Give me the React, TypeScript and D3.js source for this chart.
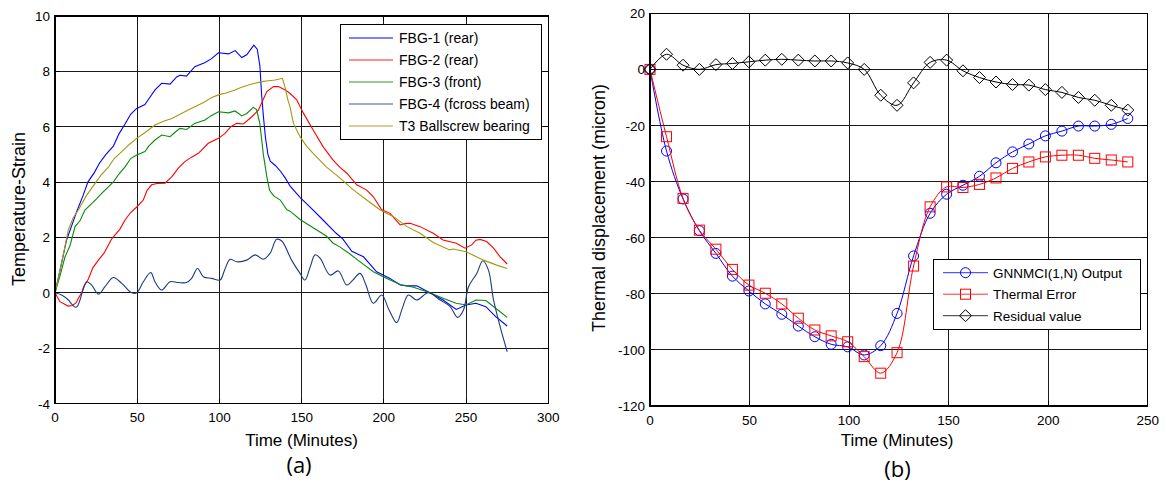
import React from "react";
import * as d3 from "d3";

// ---------- Panel (a) data: [time (min), temperature-strain] ----------
const fbg1: [number, number][] = [[0,0],[3,0.8],[7,1.9],[10,2.4],[13,2.9],[17,3.5],[20,4.0],[24,4.35],[27,4.68],[31,5.0],[35.5,5.3],[39,5.75],[42.6,6.1],[46,6.45],[49.7,6.66],[54.7,6.8],[57,7.0],[60.8,7.33],[64.9,7.57],[70,7.54],[74,7.8],[76,7.86],[80,7.83],[85,8.17],[91,8.31],[95,8.45],[99.4,8.67],[105.5,8.63],[109.6,8.75],[113.6,8.5],[116.6,8.6],[120.9,8.95],[123,8.8],[124.6,8.2],[125.6,7.2],[126.7,6.4],[128,5.6],[129.5,5.0],[131,4.75],[134,4.6],[137,4.4],[140,4.15],[143,3.85],[149,3.45],[155,3.1],[163,2.63],[171,2.15],[175,1.95],[180.5,1.5],[187.6,1.3],[195.6,0.76],[203.7,0.52],[210,0.28],[214,0.25],[220,0.25],[228,0],[236,-0.26],[244,-0.6],[250,-0.44],[256,-0.38],[262,-0.5],[268,-0.86],[275,-1.2]];
const fbg2: [number, number][] = [[0,0],[3,-0.32],[8,-0.48],[10.7,-0.46],[13,-0.35],[14.2,-0.2],[16.2,0],[17.3,0.2],[20.3,0.5],[23,0.9],[26.4,1.18],[30,1.45],[34.5,1.95],[39.5,2.3],[42.6,2.63],[46,2.9],[49.7,3.1],[53.7,3.35],[56,3.7],[58.8,3.9],[62,3.95],[66.9,3.96],[71,4.19],[75,4.5],[79,4.74],[83,4.9],[87.2,5.04],[93.2,5.4],[99.4,5.58],[103.4,5.76],[107,6.0],[110.5,6.12],[114.6,6.1],[119.7,6.36],[123.7,6.6],[126,6.9],[128.8,7.27],[132.9,7.45],[135.9,7.45],[140,7.33],[143,7.2],[147,6.97],[151,6.5],[157,5.88],[163,5.28],[169,4.8],[173,4.55],[177.5,4.32],[183.5,3.9],[189.6,3.71],[193.6,3.47],[198.7,3.0],[203.8,2.87],[209.9,2.45],[213,2.5],[216,2.51],[222,2.39],[230,2.15],[236,1.91],[244,1.79],[249.4,1.61],[253.4,1.73],[256,1.9],[258.5,1.93],[262.5,1.85],[266.7,1.61],[270.7,1.3],[275,1.04]];
const fbg3: [number, number][] = [[0,0],[3,0.6],[6.1,1.3],[9.1,1.7],[12.2,2.39],[15.2,2.6],[18.2,2.99],[22,3.2],[25.4,3.4],[28.4,3.59],[32,3.8],[35.5,4.01],[39,4.3],[42.6,4.55],[46,4.85],[49.7,4.98],[54.7,5.1],[57,5.3],[60.8,5.52],[64.9,5.7],[70,5.64],[73,5.8],[76,5.94],[80,5.9],[85,6.12],[91.2,6.24],[95,6.4],[99.4,6.54],[105.5,6.5],[109.5,6.57],[113.6,6.39],[116.6,6.48],[120.6,6.7],[122.6,6.62],[124.6,6.1],[126.7,5.0],[128.8,4.2],[130.5,3.7],[133,3.5],[137,3.35],[141,3.0],[143,2.95],[149,2.65],[157,2.35],[165,2.05],[169,1.8],[173.4,1.65],[179.4,1.4],[186.6,1.07],[193.6,0.76],[201.8,0.52],[209.9,0.3],[218,0.2],[228,0],[236,-0.2],[244,-0.38],[250,-0.44],[256,-0.26],[262,-0.28],[268,-0.56],[275,-0.89]];
const fbg4: [number, number][] = [[0,0],[4,-0.08],[8.1,-0.26],[10,-0.4],[12.2,-0.52],[13.5,-0.5],[15.2,-0.26],[17,0.1],[19.3,0.4],[22.3,0.28],[26.4,-0.05],[30.4,0.22],[35.5,0.55],[40.6,0.34],[46.7,0],[49.7,0],[53.7,0.4],[58.2,0.73],[60.8,0.4],[64.9,0.1],[70,0.4],[75,0.37],[80,0.37],[83.1,0.52],[86.7,0.88],[90.2,0.58],[95.3,0.52],[100.4,0.46],[103,0.8],[106.5,1.21],[110.5,1.12],[116.6,1.18],[121.7,1.37],[126.7,1.21],[130.8,1.43],[134.8,1.93],[137.9,1.87],[143.9,1.18],[149,0.7],[152,0.46],[155,0.9],[158.2,1.37],[161.2,1.25],[167.3,0.64],[172.3,0.79],[177.4,0.28],[181,0.45],[185.5,0.7],[189,0.3],[193.6,-0.38],[198.7,-0.08],[203,-0.6],[207.8,-1.08],[211,-0.6],[214.9,-0.08],[220,-0.26],[227,0],[234.2,-0.26],[240.3,-0.5],[244.8,-0.89],[248.4,-0.62],[251.5,0.22],[256.5,0.7],[260.2,1.16],[263.6,0.82],[266.7,-0.26],[270.7,-1.22],[275,-2.13]];
const t3Bearing: [number, number][] = [[0,0],[4,1.07],[8.1,2.27],[11,2.7],[14.2,2.99],[19,3.5],[24.5,3.96],[28,4.25],[32.6,4.55],[36,4.85],[40.6,5.1],[45,5.35],[49.7,5.58],[55,5.8],[60.8,6.06],[66,6.2],[71,6.3],[76,6.45],[81,6.6],[86,6.75],[91.2,6.9],[95,7.05],[99.4,7.15],[104,7.22],[109.5,7.33],[113,7.42],[117.6,7.51],[121,7.56],[125.7,7.63],[130,7.66],[133.8,7.69],[138.3,7.75],[140,7.4],[141.5,7.0],[143,6.7],[145,6.12],[149,5.64],[153,5.3],[157,5.04],[165,4.55],[173.4,4.14],[181.6,3.71],[189.6,3.35],[197.8,2.99],[205.9,2.75],[214,2.39],[222,2.15],[230,1.82],[240,1.55],[242.3,1.58],[250,1.48],[260.6,1.18],[268.6,1.0],[275,0.88]];

const seriesA = [
  { name: "FBG-1 (rear)", color: "#0000ff", legendColor: "#0000ff", data: fbg1, smooth: false },
  { name: "FBG-2 (rear)", color: "#ff0000", legendColor: "#ff2020", data: fbg2, smooth: false },
  { name: "FBG-3 (front)", color: "#0a8a0a", legendColor: "#2a9a2a", data: fbg3, smooth: false },
  { name: "FBG-4 (fcross beam)", color: "#1e3a80", legendColor: "#44578f", data: fbg4, smooth: true },
  { name: "T3 Ballscrew bearing", color: "#a09a10", legendColor: "#a8a030", data: t3Bearing, smooth: false },
];
const xTicksA = [0, 50, 100, 150, 200, 250, 300];
const yTicksA = [-4, -2, 0, 2, 4, 6, 8, 10];

// ---------- Panel (b) data ----------
const timeB = [0, 8.3, 16.6, 24.8, 33.1, 41.4, 49.7, 57.9, 66.2, 74.5, 82.8, 91.0, 99.3, 107.6, 115.9, 124.1, 132.4, 140.7, 149.0, 157.2, 165.5, 173.8, 182.1, 190.3, 198.6, 206.9, 215.2, 223.4, 231.7, 240];
const gnnOutput = [0, -29.1, -46.2, -57.5, -65.6, -73.7, -79.0, -83.6, -87.3, -91.5, -95.3, -98.0, -98.9, -101.8, -98.5, -87.0, -66.5, -51.3, -44.5, -41.3, -38.1, -33.3, -29.4, -26.6, -23.7, -22.0, -20.2, -20.2, -19.6, -17.5];
const thermalError = [0, -24.0, -46.0, -57.3, -64.1, -71.3, -76.9, -79.8, -83.6, -88.7, -92.9, -95.0, -97.1, -102.4, -108.3, -101.0, -70.1, -49.0, -41.9, -42.1, -41.0, -38.7, -35.3, -33.0, -31.2, -30.6, -30.6, -31.7, -32.3, -33.0];
const residual = [0, 5.4, 1.5, 0, 1.7, 2.1, 2.7, 3.3, 3.6, 3.3, 3.0, 3.0, 2.3, 0, -9.2, -12.8, -4.8, 2.5, 3.3, -0.5, -2.9, -4.5, -5.4, -5.6, -7.2, -8.2, -10.0, -11.0, -12.8, -14.5];
const xTicksB = [0, 50, 100, 150, 200, 250];
const yTicksB = [-120, -100, -80, -60, -40, -20, 0, 20];

const seriesB = [
  { name: "GNNMCI(1,N) Output", color: "#0000ff", legendColor: "#3030ff", values: gnnOutput, marker: "circle" },
  { name: "Thermal Error", color: "#ff0000", legendColor: "#ff3030", values: thermalError, marker: "square" },
  { name: "Residual value", color: "#000000", legendColor: "#333333", values: residual, marker: "diamond" },
];

const FONT = "'Liberation Sans', Arial, sans-serif";

function Marker({ type, x, y, color }: { type: string; x: number; y: number; color: string }) {
  if (type === "circle") return <circle cx={x} cy={y} r={5} fill="none" stroke={color} strokeWidth={1} />;
  if (type === "square") return <rect x={x - 5} y={y - 5} width={10} height={10} fill="none" stroke={color} strokeWidth={1} />;
  return <path d={`M${x},${y - 6}L${x + 6},${y}L${x},${y + 6}L${x - 6},${y}Z`} fill="none" stroke={color} strokeWidth={1} />;
}

function Frame({ x, y, xTicks, yTicks }: any) {
  const [l, r] = x.range();
  const [b, t] = y.range();
  return (
    <g shapeRendering="crispEdges">
      {xTicks.map((v: number) => (
        <line key={"gx" + v} x1={x(v)} x2={x(v)} y1={t} y2={b} stroke="#1a1a1a" strokeWidth={1} />
      ))}
      {yTicks.map((v: number) => (
        <line key={"gy" + v} x1={l} x2={r} y1={y(v)} y2={y(v)} stroke="#1a1a1a" strokeWidth={1} />
      ))}
    </g>
  );
}

function Axes({ x, y, xTicks, yTicks }: any) {
  const [l, r] = x.range();
  const [b, t] = y.range();
  return (
    <g fontFamily={FONT} fontSize={13.5} fill="#000">
      <rect x={l} y={t} width={r - l} height={b - t} fill="none" stroke="#000" strokeWidth={1.5} shapeRendering="crispEdges" />
      {xTicks.map((v: number) => (
        <g key={"tx" + v}>
          <line x1={x(v)} x2={x(v)} y1={b} y2={b - 5} stroke="#000" shapeRendering="crispEdges" />
          <line x1={x(v)} x2={x(v)} y1={t} y2={t + 5} stroke="#000" shapeRendering="crispEdges" />
          <text x={x(v)} y={b + 18.5} textAnchor="middle">{v}</text>
        </g>
      ))}
      {yTicks.map((v: number) => (
        <g key={"ty" + v}>
          <line x1={l} x2={l + 5} y1={y(v)} y2={y(v)} stroke="#000" shapeRendering="crispEdges" />
          <line x1={r} x2={r - 5} y1={y(v)} y2={y(v)} stroke="#000" shapeRendering="crispEdges" />
          <text x={l - 5} y={y(v) + 5} textAnchor="end">{v}</text>
        </g>
      ))}
    </g>
  );
}

export default function App() {
  // Panel (a)
  const xA = d3.scaleLinear().domain([0, 300]).range([55, 548.3]);
  const yA = d3.scaleLinear().domain([-4, 10]).range([403.5, 16]);
  const lineA = d3.line<[number, number]>().x((d) => xA(d[0])).y((d) => yA(d[1]));
  const lineASmooth = d3.line<[number, number]>().x((d) => xA(d[0])).y((d) => yA(d[1])).curve(d3.curveCatmullRom.alpha(0.5));

  // Panel (b)
  const xB = d3.scaleLinear().domain([0, 250]).range([650, 1147.7]);
  const yB = d3.scaleLinear().domain([-120, 20]).range([406, 13.3]);
  const lineB = d3.line<number>().x((_, i) => xB(timeB[i])).y((d) => yB(d)).curve(d3.curveCatmullRom.alpha(0.5));

  const legA = { x: 340, y: 24, w: 201, h: 115 };
  const legB = { x: 933, y: 259, w: 207, h: 70 };

  return (
    <svg width={1167} height={486} style={{ position: "absolute", left: 0, top: 0, background: "#fff" }}>
      <rect width={1167} height={486} fill="#fff" />
      {/* Panel (a) */}
      <Frame x={xA} y={yA} xTicks={xTicksA} yTicks={yTicksA} />
      <g fill="none" strokeWidth={1.1}>
        {seriesA.map((s) => (
          <path key={s.name} d={(s.smooth ? lineASmooth : lineA)(s.data) || ""} stroke={s.color} />
        ))}
      </g>
      <Axes x={xA} y={yA} xTicks={xTicksA} yTicks={yTicksA} />
      <g fontFamily={FONT} fontSize={14}>
        <rect x={legA.x} y={legA.y} width={legA.w} height={legA.h} fill="#fff" stroke="#000" strokeWidth={1} shapeRendering="crispEdges" />
        {seriesA.map((s, i) => (
          <g key={"la" + i}>
            <line x1={349} x2={393} y1={38 + i * 22} y2={38 + i * 22} stroke={s.legendColor} strokeWidth={1.1} />
            <text x={399} y={38 + i * 22 + 5}>{s.name}</text>
          </g>
        ))}
      </g>
      <text x={301.5} y={446} textAnchor="middle" fontFamily={FONT} fontSize={17}>Time (Minutes)</text>
      <text transform="translate(19,209) rotate(-90)" textAnchor="middle" dy="0.35em" fontFamily={FONT} fontSize={18}>Temperature-Strain</text>
      <text x={299} y={473} textAnchor="middle" fontFamily="'Open Sans', sans-serif" fontSize={22}>(a)</text>

      {/* Panel (b) */}
      <Frame x={xB} y={yB} xTicks={xTicksB} yTicks={yTicksB} />
      {seriesB.map((s) => (
        <g key={s.name}>
          <path d={lineB(s.values) || ""} fill="none" stroke={s.color} strokeWidth={1} />
          {s.values.map((v, i) => (
            <Marker key={i} type={s.marker} x={xB(timeB[i])} y={yB(v)} color={s.color} />
          ))}
        </g>
      ))}
      <Axes x={xB} y={yB} xTicks={xTicksB} yTicks={yTicksB} />
      <g fontFamily={FONT} fontSize={13.5}>
        <rect x={legB.x} y={legB.y} width={legB.w} height={legB.h} fill="#fff" stroke="#000" strokeWidth={1} shapeRendering="crispEdges" />
        {seriesB.map((s, i) => (
          <g key={"lb" + i}>
            <line x1={943} x2={988} y1={272.7 + i * 21.5} y2={272.7 + i * 21.5} stroke={s.legendColor} strokeWidth={1} />
            <Marker type={s.marker} x={965.5} y={272.7 + i * 21.5} color={s.color} />
            <text x={993} y={272.7 + i * 21.5 + 5}>{s.name}</text>
          </g>
        ))}
      </g>
      <text x={897} y={446} textAnchor="middle" fontFamily={FONT} fontSize={17}>Time (Minutes)</text>
      <text transform="translate(599,208) rotate(-90)" textAnchor="middle" dy="0.35em" fontFamily={FONT} fontSize={18}>Thermal displacement (micron)</text>
      <text x={897.5} y={477} textAnchor="middle" fontFamily="'Open Sans', sans-serif" fontSize={22}>(b)</text>
    </svg>
  );
}
